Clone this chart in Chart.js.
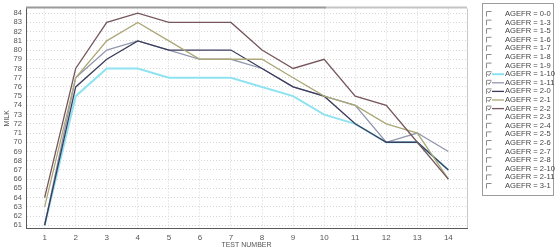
<!DOCTYPE html>
<html lang="en">
<head>
<meta charset="UTF-8">
<title>Milk by test number</title>
<style>
  html, body { margin: 0; padding: 0; background: #fff; }
  #wrap { width: 560px; height: 250px; }
</style>
</head>
<body>
<div id="wrap"><canvas id="milk"></canvas></div>
<script src="https://cdn.jsdelivr.net/npm/chart.js@4/dist/chart.umd.min.js"></script>
<script>
// test numbers along the x axis
const testNumbers = [1, 2, 3, 4, 5, 6, 7, 8, 9, 10, 11, 12, 13, 14]
const milkTicks = [61, 62, 63, 64, 65, 66, 67, 68, 69, 70, 71, 72, 73, 74, 75, 76, 77, 78, 79, 80, 81, 82, 83, 84]

// milk per age group
const agefr_2_2  = [64, 78, 83, 84, 83, 83, 83, 80, 78, 79, 75, 74, 70, 66]
const agefr_2_1  = [63, 77, 81, 83, 81, 79, 79, 79, 77, 75, 74, 72, 71, 66]
const agefr_2_0  = [61, 76, 79, 81, 80, 80, 80, 78, 76, 75, 72, 70, 70, 67]
const agefr_1_11 = [61, 77, 80, 81, 80, 79, 79, 78, 76, 75, 74, 70, 71, 69]
const agefr_1_10 = [61, 75, 78, 78, 77, 77, 77, 76, 75, 73, 72, 70, 70, 67]

const legendLabels = ['0-0', '1-3', '1-5', '1-6', '1-7', '1-8', '1-9', '1-10', '1-11', '2-0', '2-1', '2-2',
  '2-3', '2-4', '2-5', '2-6', '2-7', '2-8', '2-10', '2-11', '3-1']

const series = [
  { name: '2-2', data: agefr_2_2, color: '#76575c', width: 1.3 },
  { name: '2-1', data: agefr_2_1, color: '#aca878', width: 1.3 },
  { name: '2-0', data: agefr_2_0, color: '#3c3d5c', width: 1.3 },
  { name: '1-11', data: agefr_1_11, color: '#9298ae', width: 1.3 },
  { name: '1-10', data: agefr_1_10, color: '#8fe3f1', width: 2 }
]

const font = 'Liberation Sans, Arial, sans-serif'

// legend box on the right, with checkboxes like the original tool
const sideLegend = {
  id: 'sideLegend',
  afterDraw(chart) {
    const ctx = chart.ctx
    const area = chart.chartArea
    ctx.save()
    // plot frame: top bar and right edge
    ctx.strokeStyle = '#9a9a9a'
    ctx.lineWidth = 2
    ctx.beginPath(); ctx.moveTo(area.left, area.top - 1); ctx.lineTo(area.left + 300, area.top - 1); ctx.stroke()
    ctx.strokeStyle = '#c4c4c4'
    ctx.beginPath(); ctx.moveTo(area.left + 300, area.top - 1); ctx.lineTo(area.right, area.top - 1); ctx.stroke()
    ctx.lineWidth = 1
    ctx.strokeStyle = '#c8c8c8'
    ctx.beginPath(); ctx.moveTo(area.right + 0.5, area.top); ctx.lineTo(area.right + 0.5, area.bottom); ctx.stroke()

    const bx = 482.5, by = 3.5, bw = 71, bh = 192
    ctx.strokeStyle = '#9c9c9c'
    ctx.strokeRect(bx, by, bw, bh)
    ctx.font = '7.6px ' + font
    ctx.textBaseline = 'middle'
    legendLabels.forEach((lab, i) => {
      const y = 14 + i * 8.6
      const s = series.find(d => d.name === lab)
      // checkbox, sunken look
      ctx.strokeStyle = '#8a8a8a'
      ctx.lineWidth = 1
      ctx.beginPath()
      ctx.moveTo(486.5, y + 2.5); ctx.lineTo(486.5, y - 2.5); ctx.lineTo(491.5, y - 2.5)
      ctx.stroke()
      if (s) {
        ctx.strokeStyle = '#777'
        ctx.beginPath(); ctx.moveTo(487.5, y); ctx.lineTo(489, y + 1.5); ctx.lineTo(491, y - 1.5); ctx.stroke()
        ctx.strokeStyle = s.color
        ctx.lineWidth = s.width
        ctx.beginPath(); ctx.moveTo(492, y); ctx.lineTo(504, y); ctx.stroke()
      }
      ctx.fillStyle = '#444'
      ctx.fillText('AGEFR = ' + lab, 505, y)
    })
    ctx.restore()
  }
}

const ctx = document.getElementById('milk').getContext('2d')
const milkChart = new Chart(ctx, {
  type: 'line',
  data: {
    datasets: series.map(s => ({
      label: 'AGEFR = ' + s.name,
      data: s.data.map((v, i) => ({ x: testNumbers[i], y: v })),
      borderColor: s.color,
      backgroundColor: s.color,
      borderWidth: s.width,
      pointRadius: 0,
      tension: 0,
      fill: false
    }))
  },
  options: {
    responsive: true,
    maintainAspectRatio: false,
    animation: false,
    layout: { padding: { left: 0, top: 3, right: 93, bottom: 0 } },
    plugins: { legend: { display: false }, tooltip: { enabled: false } },
    scales: {
      x: {
        type: 'linear',
        min: 0.4,
        max: 14.6,
        afterBuildTicks: (s) => { s.ticks = testNumbers.map(v => ({ value: v })) },
        afterFit: (s) => { s.height = 22 },
        grid: { color: '#d6d6d6', drawTicks: false },
        border: { color: '#5a5a5a', width: 1, dash: [1, 2] },
        ticks: { color: '#555', font: { size: 8, family: font }, padding: 5, autoSkip: false, maxRotation: 0 },
        title: { display: true, text: 'TEST NUMBER', color: '#555', font: { size: 7, family: font }, padding: { top: 0, bottom: 1 } }
      },
      y: {
        min: 60.7,
        max: 84.5,
        afterBuildTicks: (s) => { s.ticks = milkTicks.map(v => ({ value: v })) },
        afterFit: (s) => { s.width = 26 },
        grid: { color: '#d6d6d6', drawTicks: false },
        border: { color: '#5a5a5a', width: 1, dash: [1, 2] },
        ticks: { color: '#555', font: { size: 7.6, family: font }, padding: 4, autoSkip: false },
        title: { display: true, text: 'MILK', color: '#555', font: { size: 7, family: font }, padding: { top: 3, bottom: 0 } }
      }
    }
  },
  plugins: [sideLegend]
})
</script>
</body>
</html>
